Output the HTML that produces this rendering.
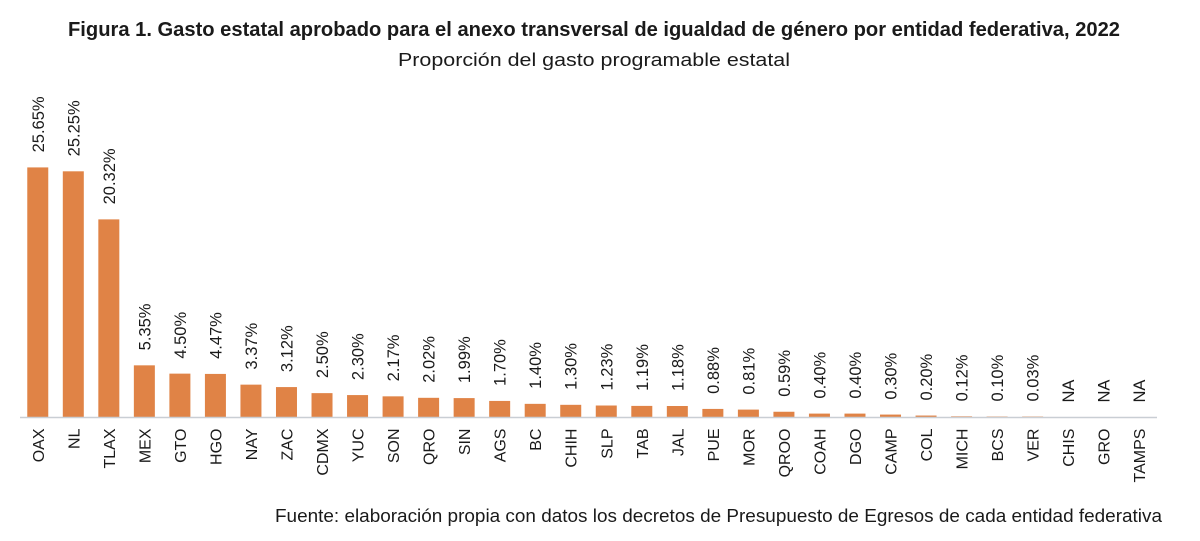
<!DOCTYPE html>
<html>
<head>
<meta charset="utf-8">
<style>
  html,body{margin:0;padding:0;background:#fff;}
  svg{display:block;}
  text{font-family:"Liberation Sans", Arial, sans-serif; fill:#1a1a1a;}
</style>
</head>
<body>
<svg width="1200" height="541" viewBox="0 0 1200 541" xmlns="http://www.w3.org/2000/svg">
  <rect width="1200" height="541" fill="#fff"/>
  <text x="68" y="36" font-size="20.5" font-weight="600" textLength="1052" lengthAdjust="spacingAndGlyphs">Figura 1. Gasto estatal aprobado para el anexo transversal de igualdad de género por entidad federativa, 2022</text>
  <text x="398" y="66" font-size="18.5" textLength="392" lengthAdjust="spacingAndGlyphs">Proporción del gasto programable estatal</text>
  <g id="chart"></g>
  <line x1="20" y1="417.5" x2="1157" y2="417.5" stroke="#c9ced4" stroke-width="1.5"/>
  <text x="275" y="522" font-size="18.5" textLength="887" lengthAdjust="spacingAndGlyphs">Fuente: elaboración propia con datos los decretos de Presupuesto de Egresos de cada entidad federativa</text>
  <script>
    var data=[["OAX",25.65],["NL",25.25],["TLAX",20.32],["MEX",5.35],["GTO",4.50],["HGO",4.47],["NAY",3.37],["ZAC",3.12],["CDMX",2.50],["YUC",2.30],["SON",2.17],["QRO",2.02],["SIN",1.99],["AGS",1.70],["BC",1.40],["CHIH",1.30],["SLP",1.23],["TAB",1.19],["JAL",1.18],["PUE",0.88],["MOR",0.81],["QROO",0.59],["COAH",0.40],["DGO",0.40],["CAMP",0.30],["COL",0.20],["MICH",0.12],["BCS",0.10],["VER",0.03],["CHIS",null],["GRO",null],["TAMPS",null]];
    var ns="http://www.w3.org/2000/svg";
    var g=document.getElementById("chart");
    var base=417.5, scale=9.75, step=(1157-20)/32, bw=21;
    data.forEach(function(d,i){
      var cx=20+step*(i+0.5);
      var top=base;
      if(d[1]!==null){
        var h=Math.max(d[1]*scale,1);
        top=base-h;
        var r=document.createElementNS(ns,"rect");
        r.setAttribute("x",(cx-bw/2).toFixed(2));
        r.setAttribute("y",top.toFixed(2));
        r.setAttribute("width",bw);
        r.setAttribute("height",h.toFixed(2));
        r.setAttribute("fill","#e08346");
        g.appendChild(r);
      }
      var v=document.createElementNS(ns,"text");
      var vx=cx+6, vy=top-15;
      v.setAttribute("x",vx.toFixed(2));
      v.setAttribute("y",vy.toFixed(2));
      v.setAttribute("font-size","16.5");
      v.setAttribute("transform","rotate(-90 "+vx.toFixed(2)+" "+vy.toFixed(2)+")");
      v.textContent=d[1]===null?"NA":d[1].toFixed(2)+"%";
      g.appendChild(v);
      var c=document.createElementNS(ns,"text");
      var lx=cx+6, ly=428.5;
      c.setAttribute("x",lx.toFixed(2));
      c.setAttribute("y",ly);
      c.setAttribute("font-size","16");
      c.setAttribute("text-anchor","end");
      c.setAttribute("transform","rotate(-90 "+lx.toFixed(2)+" "+ly+")");
      c.textContent=d[0];
      g.appendChild(c);
    });
  </script>
</svg>
</body>
</html>
